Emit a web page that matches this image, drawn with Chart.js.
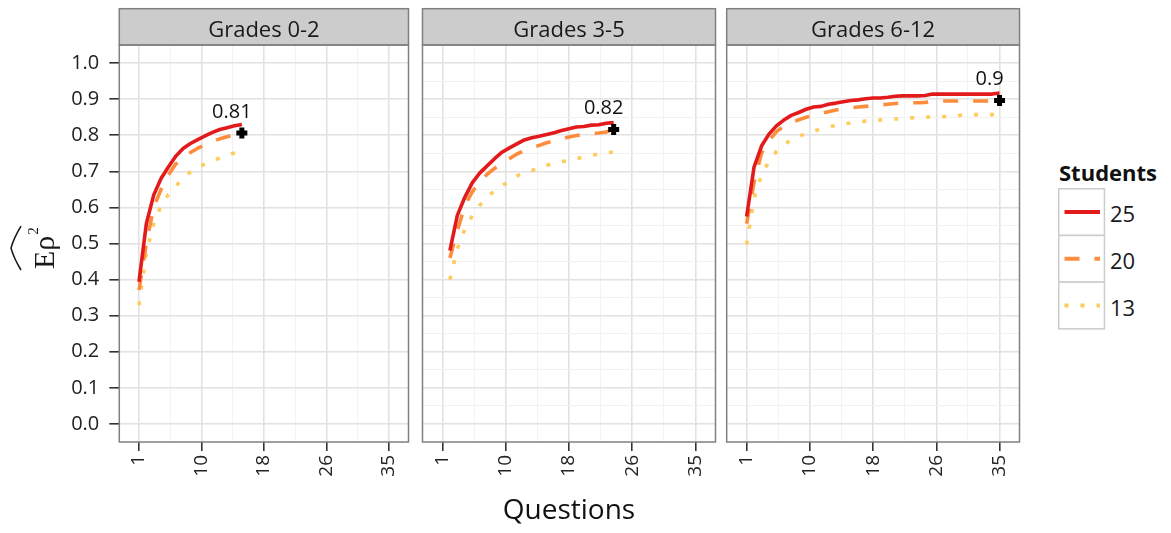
<!DOCTYPE html>
<html>
<head>
<meta charset="utf-8">
<script src="https://cdn.jsdelivr.net/npm/chart.js@4.4.1/dist/chart.umd.min.js"></script>
<style>
html,body{margin:0;padding:0;background:#fff;}
body{width:1171px;height:533px;position:relative;overflow:hidden;font-family:"Open Sans",Lato,sans-serif;}
canvas{position:absolute;top:0;}
#legend{position:absolute;left:1058px;top:160px;width:110px;height:180px;}
#legend .lt{position:absolute;left:1px;top:-1px;font-weight:700;font-size:22px;line-height:26.4px;color:#111;white-space:nowrap;}
#legend .lab{position:absolute;left:52px;font-size:22px;line-height:26.4px;color:#1a1a1a;}
#legend svg{position:absolute;left:0;top:28px;}
</style>
</head>
<body>
<canvas id="c1" width="419" height="533" style="left:0px"></canvas>
<canvas id="c2" width="314" height="533" style="left:412px"></canvas>
<canvas id="c3" width="314" height="533" style="left:716px"></canvas>
<div id="legend"></div>
<script>
// ---------------- data ----------------
const panelNames = ['Grades 0-2', 'Grades 3-5', 'Grades 6-12'];
const seriesNames = ['25', '20', '13'];
const seriesColors = ['#E31A1C', '#FD8D3C', '#FECC5C'];
const seriesDash = [[], [15, 15], [4, 12]];

const questions02 = [1,2,3,4,5,6,7,8,9,10,11,12,13,14,15];
const s25_g02 = [0.394,0.555,0.634,0.680,0.712,0.742,0.763,0.777,0.788,0.798,0.808,0.816,0.821,0.826,0.830];
const s20_g02 = [0.371,0.500,0.600,0.650,0.690,0.720,0.738,0.752,0.764,0.774,0.783,0.790,0.796,0.801,0.806];
const s13_g02 = [0.329,0.475,0.553,0.605,0.636,0.658,0.682,0.698,0.712,0.720,0.729,0.737,0.745,0.751,0.757];

const questions35 = [2,3,4,5,6,7,8,9,10,11,12,13,14,15,16,17,18,19,20,21,22,23,24];
const s25_g35 = [0.480,0.578,0.628,0.668,0.695,0.715,0.735,0.753,0.765,0.776,0.787,0.793,0.797,0.802,0.807,0.813,0.818,0.823,0.824,0.828,0.829,0.833,0.835];
const s20_g35 = [0.460,0.535,0.605,0.643,0.670,0.692,0.708,0.722,0.735,0.748,0.757,0.765,0.772,0.779,0.785,0.790,0.795,0.799,0.802,0.804,0.806,0.809,0.816];
const s13_g35 = [0.400,0.485,0.540,0.577,0.606,0.627,0.647,0.660,0.673,0.687,0.697,0.702,0.708,0.716,0.724,0.727,0.729,0.735,0.740,0.744,0.748,0.751,0.754];

const questions612 = [1,2,3,4,5,6,7,8,9,10,11,12,13,14,15,16,17,18,19,20,21,22,23,24,25,26,27,28,29,30,31,32,33,34,35];
const s25_g612 = [0.575,0.712,0.770,0.803,0.826,0.842,0.855,0.863,0.872,0.878,0.880,0.886,0.889,0.893,0.896,0.898,0.901,0.903,0.903,0.905,0.908,0.909,0.909,0.909,0.910,0.914,0.914,0.914,0.914,0.914,0.914,0.914,0.914,0.914,0.917];
const s20_g612 = [0.555,0.670,0.750,0.785,0.810,0.825,0.835,0.843,0.850,0.855,0.860,0.865,0.870,0.874,0.876,0.878,0.880,0.882,0.884,0.886,0.888,0.890,0.890,0.890,0.891,0.894,0.895,0.895,0.895,0.895,0.895,0.895,0.895,0.895,0.895];
const s13_g612 = [0.497,0.625,0.690,0.728,0.755,0.773,0.788,0.797,0.805,0.811,0.818,0.823,0.827,0.831,0.834,0.837,0.839,0.840,0.842,0.844,0.845,0.847,0.848,0.849,0.850,0.851,0.851,0.852,0.853,0.856,0.857,0.857,0.857,0.857,0.857];

const markX = [15, 24, 35];
const markY = [0.806, 0.816, 0.896];

const xTickValues = [1, 9.5, 18, 26.5, 35];
const xTickLabels = ['1', '10', '18', '26', '35'];
const xMinorValues = [5.25, 13.75, 22.25, 30.75];
const yTickValues = [0, 0.1, 0.2, 0.3, 0.4, 0.5, 0.6, 0.7, 0.8, 0.9, 1.0];
const yTickLabels = ['0.0','0.1','0.2','0.3','0.4','0.5','0.6','0.7','0.8','0.9','1.0'];
const yMinorValues = [0.05, 0.15, 0.25, 0.35, 0.45, 0.55, 0.65, 0.75, 0.85, 0.95];

const panelQuestions = [questions02, questions35, questions612];
const panelSeries = [
  [s25_g02, s20_g02, s13_g02],
  [s25_g35, s20_g35, s13_g35],
  [s25_g612, s20_g612, s13_g612]
];

// ---------------- helpers ----------------
const FONT = '"Open Sans", Lato, sans-serif';
Chart.defaults.font.family = FONT;
const isMajor = (arr, v) => arr.some(a => Math.abs(a - v) < 1e-6);
const fmtMark = v => String(Math.round(v * 100) / 100);

const decoPlugin = {
  id: 'deco',
  afterDraw(chart, args, opts) {
    const {ctx, chartArea: a} = chart;
    ctx.save();
    // strip
    ctx.fillStyle = '#cccccc';
    ctx.fillRect(a.left, 8.7, a.right - a.left, a.top - 8.7);
    ctx.strokeStyle = '#808080';
    ctx.lineWidth = 1.5;
    ctx.strokeRect(a.left, 8.7, a.right - a.left, a.top - 8.7);
    ctx.fillStyle = '#1a1a1a';
    ctx.font = '22px ' + FONT;
    ctx.textAlign = 'center';
    ctx.textBaseline = 'alphabetic';
    ctx.fillText(opts.title, (a.left + a.right) / 2, 36.5);
    // panel border
    ctx.strokeStyle = '#808080';
    ctx.lineWidth = 1.5;
    ctx.strokeRect(a.left, a.top, a.right - a.left, a.bottom - a.top);
    // mark label
    const meta = chart.getDatasetMeta(3);
    const pt = meta.data[0];
    if (pt) {
      ctx.fillStyle = '#111';
      ctx.font = '20px ' + FONT;
      ctx.textAlign = 'center';
      ctx.fillText(fmtMark(chart.data.datasets[3].data[0].y), pt.x - 10, pt.y - 15.5);
    }
    ctx.restore();
  }
};

const yTitlePlugin = {
  id: 'ytitle',
  afterDraw(chart) {
    const ctx = chart.ctx;
    ctx.save();
    ctx.translate(54, 269);
    ctx.rotate(-Math.PI / 2);
    ctx.fillStyle = '#1a1a1a';
    ctx.strokeStyle = '#1a1a1a';
    ctx.textBaseline = 'alphabetic';
    ctx.textAlign = 'left';
    ctx.font = '30px "Liberation Serif", "DejaVu Serif", serif';
    ctx.fillText('E', 0, 0);
    const wE = ctx.measureText('E').width;
    ctx.fillText('ρ', wE, 0);
    const wR = ctx.measureText('ρ').width;
    ctx.font = '15px "Liberation Serif", "DejaVu Serif", serif';
    ctx.fillText('2', wE + wR + 1, -16);
    const w2 = ctx.measureText('2').width;
    const total = wE + wR + w2 + 1;
    ctx.lineWidth = 1.6;
    ctx.beginPath();
    ctx.moveTo(-1, -33);
    ctx.quadraticCurveTo(total * 0.25, -40, total / 2, -43);
    ctx.quadraticCurveTo(total * 0.75, -40, total + 1, -33);
    ctx.stroke();
    ctx.restore();
  }
};

function buildChart(canvasId, idx, cfg) {
  const qs = panelQuestions[idx];
  const datasets = seriesNames.map((name, s) => ({
    label: name,
    data: qs.map((q, i) => ({x: q, y: panelSeries[idx][s][i]})),
    borderColor: seriesColors[s],
    backgroundColor: seriesColors[s],
    borderDash: seriesDash[s],
    borderWidth: 3.6,
    borderCapStyle: 'butt',
    borderJoinStyle: 'round',
    pointRadius: 0,
    tension: 0,
    fill: false,
    order: 0
  }));
  datasets.push({
    label: 'max',
    data: [{x: markX[idx], y: markY[idx]}],
    showLine: false,
    pointStyle: 'cross',
    pointRadius: 5.5,
    pointBorderWidth: 5,
    pointBorderColor: '#000',
    pointBackgroundColor: '#000',
    order: -1
  });

  const gridColorX = c => isMajor(xTickValues, c.tick.value) ? '#e2e2e2' : '#f2f2f2';
  const gridWidthX = c => isMajor(xTickValues, c.tick.value) ? 1.6 : 1;
  const tickColorX = c => isMajor(xTickValues, c.tick.value) ? '#333' : 'rgba(0,0,0,0)';
  const gridColorY = c => isMajor(yTickValues, c.tick.value) ? '#e2e2e2' : '#f2f2f2';
  const gridWidthY = c => isMajor(yTickValues, c.tick.value) ? 1.6 : 1;
  const tickColorY = c => isMajor(yTickValues, c.tick.value) ? '#333' : 'rgba(0,0,0,0)';

  const xAll = xTickValues.concat(xMinorValues).sort((a, b) => a - b);
  const yAll = yTickValues.concat(yMinorValues).sort((a, b) => a - b);

  return new Chart(document.getElementById(canvasId), {
    type: 'line',
    data: {datasets},
    options: {
      responsive: false,
      animation: false,
      events: [],
      layout: {padding: cfg.padding},
      plugins: {
        legend: {display: false},
        tooltip: {enabled: false},
        deco: {title: panelNames[idx]}
      },
      scales: {
        x: {
          type: 'linear',
          min: -1.68,
          max: 37.68,
          afterBuildTicks: s => { s.ticks = xAll.map(v => ({value: v})); },
          afterFit: s => { s.height = 91; },
          border: {display: false},
          grid: {
            color: gridColorX,
            lineWidth: gridWidthX,
            tickColor: tickColorX,
            tickWidth: 1.6,
            tickLength: 9,
            drawTicks: true
          },
          ticks: {
            autoSkip: false,
            minRotation: 90,
            maxRotation: 90,
            padding: 4,
            color: '#222',
            font: {size: 19, family: FONT},
            callback: v => {
              const k = xTickValues.findIndex(t => Math.abs(t - v) < 1e-6);
              return k >= 0 ? xTickLabels[k] : '';
            }
          },
          title: cfg.xTitle ? {
            display: true,
            text: 'Questions',
            color: '#111',
            font: {size: 28, family: FONT},
            padding: {top: 0, bottom: 5}
          } : {display: false}
        },
        y: {
          type: 'linear',
          min: -0.05,
          max: 1.05,
          afterBuildTicks: s => { s.ticks = yAll.map(v => ({value: v})); },
          afterFit: s => { s.width = cfg.yWidth; },
          border: {display: false},
          grid: {
            color: gridColorY,
            lineWidth: gridWidthY,
            tickColor: tickColorY,
            tickWidth: 1.6,
            tickLength: 10,
            drawTicks: cfg.yTicks
          },
          ticks: {
            display: cfg.yTicks,
            padding: 10,
            color: '#222',
            font: {size: 20, family: FONT},
            callback: v => {
              const k = yTickValues.findIndex(t => Math.abs(t - v) < 1e-6);
              return k >= 0 ? yTickLabels[k] : '';
            }
          }
        }
      }
    },
    plugins: cfg.yTicks ? [decoPlugin, yTitlePlugin] : [decoPlugin]
  });
}

buildChart('c1', 0, {padding: {left: 0, right: 6.3, top: 45, bottom: 0}, yWidth: 119.3, yTicks: true, xTitle: false});
buildChart('c2', 1, {padding: {left: 10.3, right: 9.3, top: 45, bottom: 0}, yWidth: 0, yTicks: false, xTitle: true});
buildChart('c3', 2, {padding: {left: 10.7, right: 9.3, top: 45, bottom: 0}, yWidth: 0, yTicks: false, xTitle: false});

// ---------------- legend ----------------
(function () {
  const leg = document.getElementById('legend');
  const cellW = 45.7, cellH = 46.7;
  let svg = '<svg width="48" height="' + (cellH * 3 + 2) + '" xmlns="http://www.w3.org/2000/svg">';
  let labs = '';
  seriesNames.forEach((n, i) => {
    const top = 0.75 + i * cellH;
    svg += '<rect x="0.75" y="' + top + '" width="' + cellW + '" height="' + cellH + '" fill="#fff" stroke="#cccccc" stroke-width="1.5"/>';
    const cy = top + cellH / 2;
    svg += '<line x1="6.5" x2="42" y1="' + cy + '" y2="' + cy + '" stroke="' + seriesColors[i] + '" stroke-width="4" stroke-dasharray="' + (seriesDash[i].length ? seriesDash[i].join(',') : 'none') + '"/>';
    labs += '<div class="lab" style="top:' + (28 + cy - 12) + 'px">' + n + '</div>';
  });
  svg += '</svg>';
  leg.innerHTML = '<div class="lt">Students</div>' + svg + labs;
})();
</script>
</body>
</html>
